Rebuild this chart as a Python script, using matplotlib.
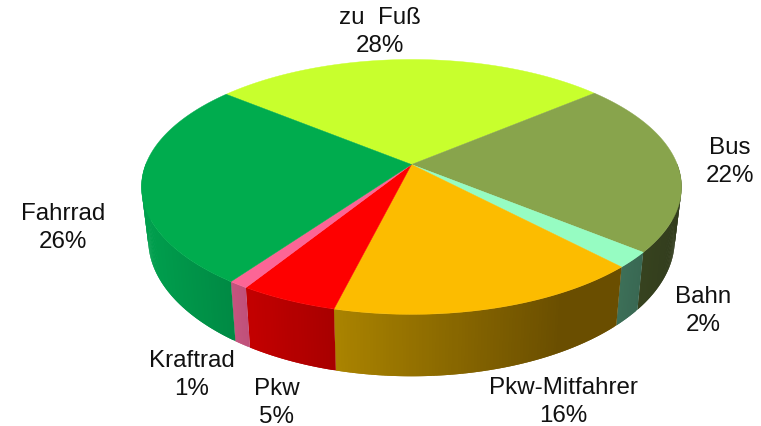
import numpy as np
import matplotlib
matplotlib.use('Agg')
import matplotlib.pyplot as plt

# Anteile in Prozent, im Uhrzeigersinn ab 'zu Fuss'
labels = ['zu  Fuß', 'Bus', 'Bahn', 'Pkw-Mitfahrer', 'Pkw', 'Kraftrad', 'Fahrrad']
shares = [28, 22, 2, 16, 5, 1, 26]
top_colors = ['#c8ff2d', '#88a44c', '#96fcc2', '#fcbc00', '#fe0000', '#fc6596', '#00ac4e']
# Farbe der Seitenwand: linkes/rechtes Ende (im Bild)
side_left = ['#c8ff2d', '#37431f', '#3d7058', '#ab8400', '#c40000', '#c5567f', '#00a04e']
side_right = ['#c8ff2d', '#323c1d', '#396853', '#6a4e00', '#a80000', '#c0507a', '#008a44']
label_x = [380, 730, 703, 563, 277, 192, 63]
label_y = [32, 162, 311, 402, 403, 375, 228]

# Perspektive
cx, cy = 411.5, 165.5
a, b, k = 265.8, 123.5, 0.176
depth = 51.0
shrink = 0.975
start = 140.8


def top(t):
    u, v = np.cos(np.radians(t)), np.sin(np.radians(t))
    w = 1 + k * v
    return cx + a * u / w, cy - b * v / w


def bottom(t):
    x, y = top(t)
    w = 1 + k * np.sin(np.radians(t))
    return cx + shrink * (x - cx), y + depth / w


fig = plt.figure(figsize=(7.61, 4.27), dpi=100)
ax = fig.add_axes([0, 0, 1, 1])
ax.set_xlim(0, 761)
ax.set_ylim(427, 0)
ax.axis('off')

angles = start - np.cumsum([0] + shares) * 3.6

# Seitenwand, nur der vordere Teil ist sichtbar
for i in range(len(shares)):
    t = np.linspace(angles[i], angles[i + 1], shares[i] * 6 + 2)
    t = t[np.sin(np.radians(t)) < 0.02]
    if len(t) < 2:
        continue
    x0, y0 = top(t)
    x1, y1 = bottom(t)
    c0 = np.array(matplotlib.colors.to_rgb(side_left[i]))
    c1 = np.array(matplotlib.colors.to_rgb(side_right[i]))
    for j in range(len(t) - 1):
        f = (x0[j] - x0.min()) / (x0.max() - x0.min())
        if i == 3:
            # dunkelster Bereich liegt vor dem rechten Ende
            f = min(f * 1.25, 1.0)
        col = c0 + (c1 - c0) * f
        # ueberlappen, damit keine hellen Fugen bleiben
        e = min(j + 2, len(t) - 1)
        ax.fill([x0[j], x0[e], x1[e], x1[j]],
                [y0[j], y0[e], y1[e], y1[j]],
                color=col, lw=0, zorder=2)

# Deckflaeche
for i in range(len(shares)):
    t = np.linspace(angles[i], angles[i + 1], shares[i] * 6 + 2)
    x, y = top(t)
    ax.fill(np.r_[cx, x], np.r_[cy, y], color=top_colors[i], lw=0.3, zorder=3)

for i in range(len(shares)):
    ax.text(label_x[i], label_y[i], '%s\n%d%%' % (labels[i], shares[i]),
            family='Liberation Sans', fontsize=17.4, color='#111111',
            ha='center', va='center', linespacing=1.35, zorder=4)

fig.savefig('out.png', dpi=100)
